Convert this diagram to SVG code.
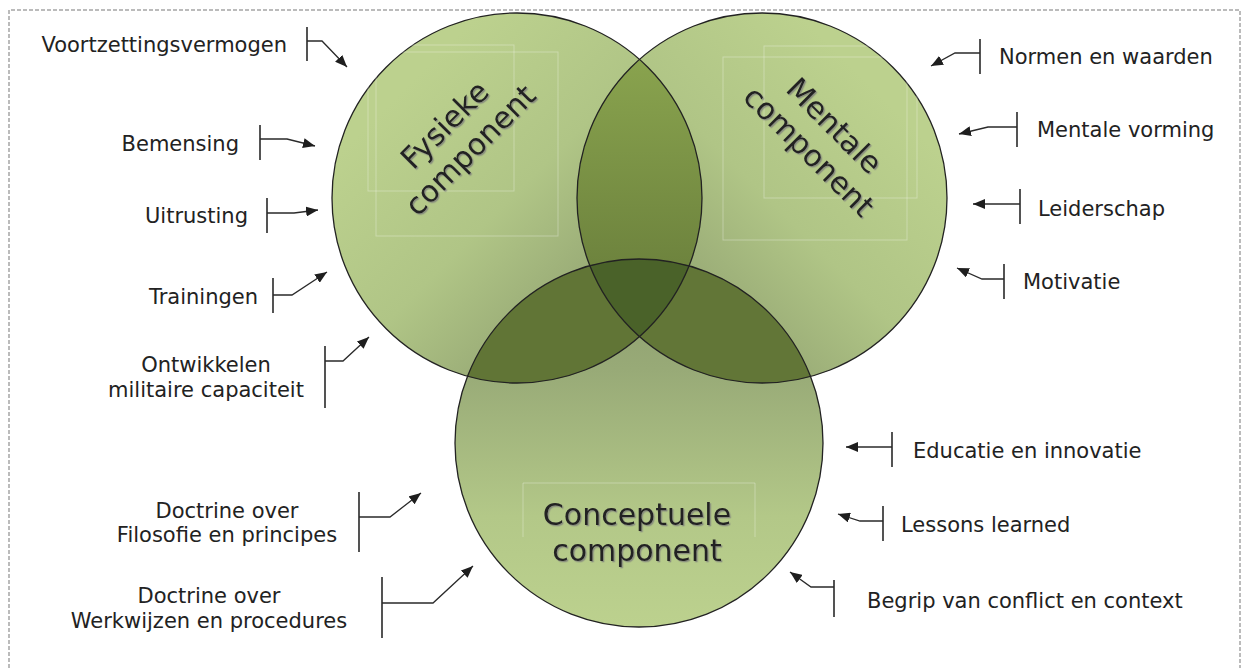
<svg xmlns="http://www.w3.org/2000/svg" width="1244" height="668" viewBox="0 0 1244 668">
<defs>
<style>
.lbl{font-family:"DejaVu Sans",Verdana,sans-serif;font-size:21px;fill:#222}
.ttl{font-family:"DejaVu Sans",Verdana,sans-serif;font-size:30px;fill:#222}
.con{fill:none;stroke:#2a2a2a;stroke-width:1.3;marker-end:url(#ah)}
.brk{fill:none;stroke:#2a2a2a;stroke-width:1.6}
.out{fill:none;stroke:#222;stroke-width:1.3}
.box{fill:none;stroke:#fff;stroke-opacity:0.3;stroke-width:1}
</style>
<marker id="ah" viewBox="0 0 12 10" markerUnits="userSpaceOnUse" markerWidth="12" markerHeight="10" refX="12" refY="5" orient="auto">
<path d="M0,0 L12,5 L0,10 Z" fill="#1e1e1e"/>
</marker>
<filter id="ts" x="-10%" y="-10%" width="120%" height="120%">
<feDropShadow dx="1.3" dy="1.3" stdDeviation="0.5" flood-color="#7a7a7a" flood-opacity="0.75"/>
</filter>
<circle id="cL" cx="517" cy="198" r="185"/>
<circle id="cR" cx="762" cy="198" r="185"/>
<circle id="cB" cx="639" cy="443" r="184"/>
<clipPath id="clipL"><use href="#cL"/></clipPath>
<clipPath id="clipR"><use href="#cR"/></clipPath>
<linearGradient id="gL" x1="0.2" y1="0.2" x2="0.85" y2="0.85">
<stop offset="0" stop-color="#bcd18e"/><stop offset="0.45" stop-color="#b0c586"/><stop offset="1" stop-color="#8a9a6c"/>
</linearGradient>
<linearGradient id="gR" x1="0.8" y1="0.2" x2="0.15" y2="0.85">
<stop offset="0" stop-color="#bcd18e"/><stop offset="0.45" stop-color="#b0c586"/><stop offset="1" stop-color="#8a9a6c"/>
</linearGradient>
<linearGradient id="gB" x1="0" y1="1" x2="0" y2="0">
<stop offset="0" stop-color="#bcd18e"/><stop offset="0.3" stop-color="#b3c888"/><stop offset="0.7" stop-color="#98aa77"/><stop offset="1" stop-color="#8c9c6e"/>
</linearGradient>
<linearGradient id="gLens" gradientUnits="userSpaceOnUse" x1="0" y1="60" x2="0" y2="300">
<stop offset="0" stop-color="#89a34e"/><stop offset="1" stop-color="#697e3b"/>
</linearGradient>
</defs>

<path d="M9,668 V10 H1240 V668" fill="none" stroke="#a5a5a5" stroke-width="1.5" stroke-dasharray="4 2"/>

<g id="venn">
<use href="#cL" fill="url(#gL)"/>
<use href="#cR" fill="url(#gR)"/>
<use href="#cB" fill="url(#gB)"/>
<g clip-path="url(#clipL)"><use href="#cR" fill="url(#gLens)"/></g>
<g clip-path="url(#clipL)"><use href="#cB" fill="#617536"/></g>
<g clip-path="url(#clipR)"><use href="#cB" fill="#627637"/></g>
<g clip-path="url(#clipL)"><g clip-path="url(#clipR)"><use href="#cB" fill="#4a6229"/></g></g>
<use href="#cL" class="out"/>
<use href="#cR" class="out"/>
<use href="#cB" class="out"/>
</g>

<g id="fysieke-component">
<rect class="box" x="368" y="45" width="146" height="146"/>
<rect class="box" x="376" y="52" width="182" height="184"/>
<g filter="url(#ts)">
<text class="ttl" text-anchor="middle" transform="translate(457,137) rotate(-45)"><tspan x="0" y="-7">Fysieke</tspan><tspan x="0" y="29">component</tspan></text>
</g>
</g>

<g id="mentale-component">
<rect class="box" x="764" y="46" width="153" height="152"/>
<rect class="box" x="723" y="57" width="184" height="183"/>
<g filter="url(#ts)">
<text class="ttl" text-anchor="middle" transform="translate(822,138) rotate(45)"><tspan x="0" y="-7">Mentale</tspan><tspan x="0" y="29">component</tspan></text>
</g>
</g>

<g id="conceptuele-component">
<path class="box" d="M523,537 V483 H755 V537"/>
<g filter="url(#ts)">
<text class="ttl" text-anchor="middle"><tspan x="637" y="525">Conceptuele</tspan><tspan x="637" y="561">component</tspan></text>
</g>
</g>

<g id="label-voortzettingsvermogen"><text class="lbl" x="287" y="52" text-anchor="end">Voortzettingsvermogen</text></g>
<g id="label-bemensing"><text class="lbl" x="239" y="151" text-anchor="end">Bemensing</text></g>
<g id="label-uitrusting"><text class="lbl" x="248" y="223" text-anchor="end">Uitrusting</text></g>
<g id="label-trainingen"><text class="lbl" x="258" y="304" text-anchor="end">Trainingen</text></g>
<g id="label-ontwikkelen"><text class="lbl" text-anchor="middle"><tspan x="206" y="372">Ontwikkelen</tspan><tspan x="206" y="397">militaire capaciteit</tspan></text></g>
<g id="label-doctrine-filosofie"><text class="lbl" text-anchor="middle"><tspan x="227" y="518">Doctrine over</tspan><tspan x="227" y="542">Filosofie en principes</tspan></text></g>
<g id="label-doctrine-werkwijzen"><text class="lbl" text-anchor="middle"><tspan x="209" y="603">Doctrine over</tspan><tspan x="209" y="628">Werkwijzen en procedures</tspan></text></g>
<g id="label-normen"><text class="lbl" x="999" y="64">Normen en waarden</text></g>
<g id="label-mentale-vorming"><text class="lbl" x="1037" y="137">Mentale vorming</text></g>
<g id="label-leiderschap"><text class="lbl" x="1038" y="216">Leiderschap</text></g>
<g id="label-motivatie"><text class="lbl" x="1023" y="289">Motivatie</text></g>
<g id="label-educatie"><text class="lbl" x="913" y="458">Educatie en innovatie</text></g>
<g id="label-lessons"><text class="lbl" x="901" y="532">Lessons learned</text></g>
<g id="label-begrip"><text class="lbl" x="867" y="608">Begrip van conflict en context</text></g>

<g id="connectors">
<path class="brk" d="M307,27 V61 M260,125 V160 M267,198 V233 M273,278 V313 M325,346 V408 M359,492 V552 M382,577 V638"/>
<path class="brk" d="M980,39 V74 M1017,112 V147 M1020,189 V224 M1004,264 V299 M892,432 V467 M883,506 V541 M834,580 V617"/>
<polyline class="con" points="307,41 322,41 347,67"/>
<polyline class="con" points="260,139 287,139 315,146"/>
<polyline class="con" points="267,213 294,213 318,210"/>
<polyline class="con" points="273,295 292,295 327,272"/>
<polyline class="con" points="325,361 343,361 369,337"/>
<polyline class="con" points="359,517 390,517 421,493"/>
<polyline class="con" points="382,603 433,603 473,566"/>
<polyline class="con" points="980,53 955,53 931,66"/>
<polyline class="con" points="1017,127 988,127 959,134"/>
<polyline class="con" points="1020,204 973,204"/>
<polyline class="con" points="1004,279 982,279 957,268"/>
<polyline class="con" points="892,447 846,447"/>
<polyline class="con" points="883,521 860,521 838,514"/>
<polyline class="con" points="834,587 811,587 790,572"/>
</g>
</svg>
